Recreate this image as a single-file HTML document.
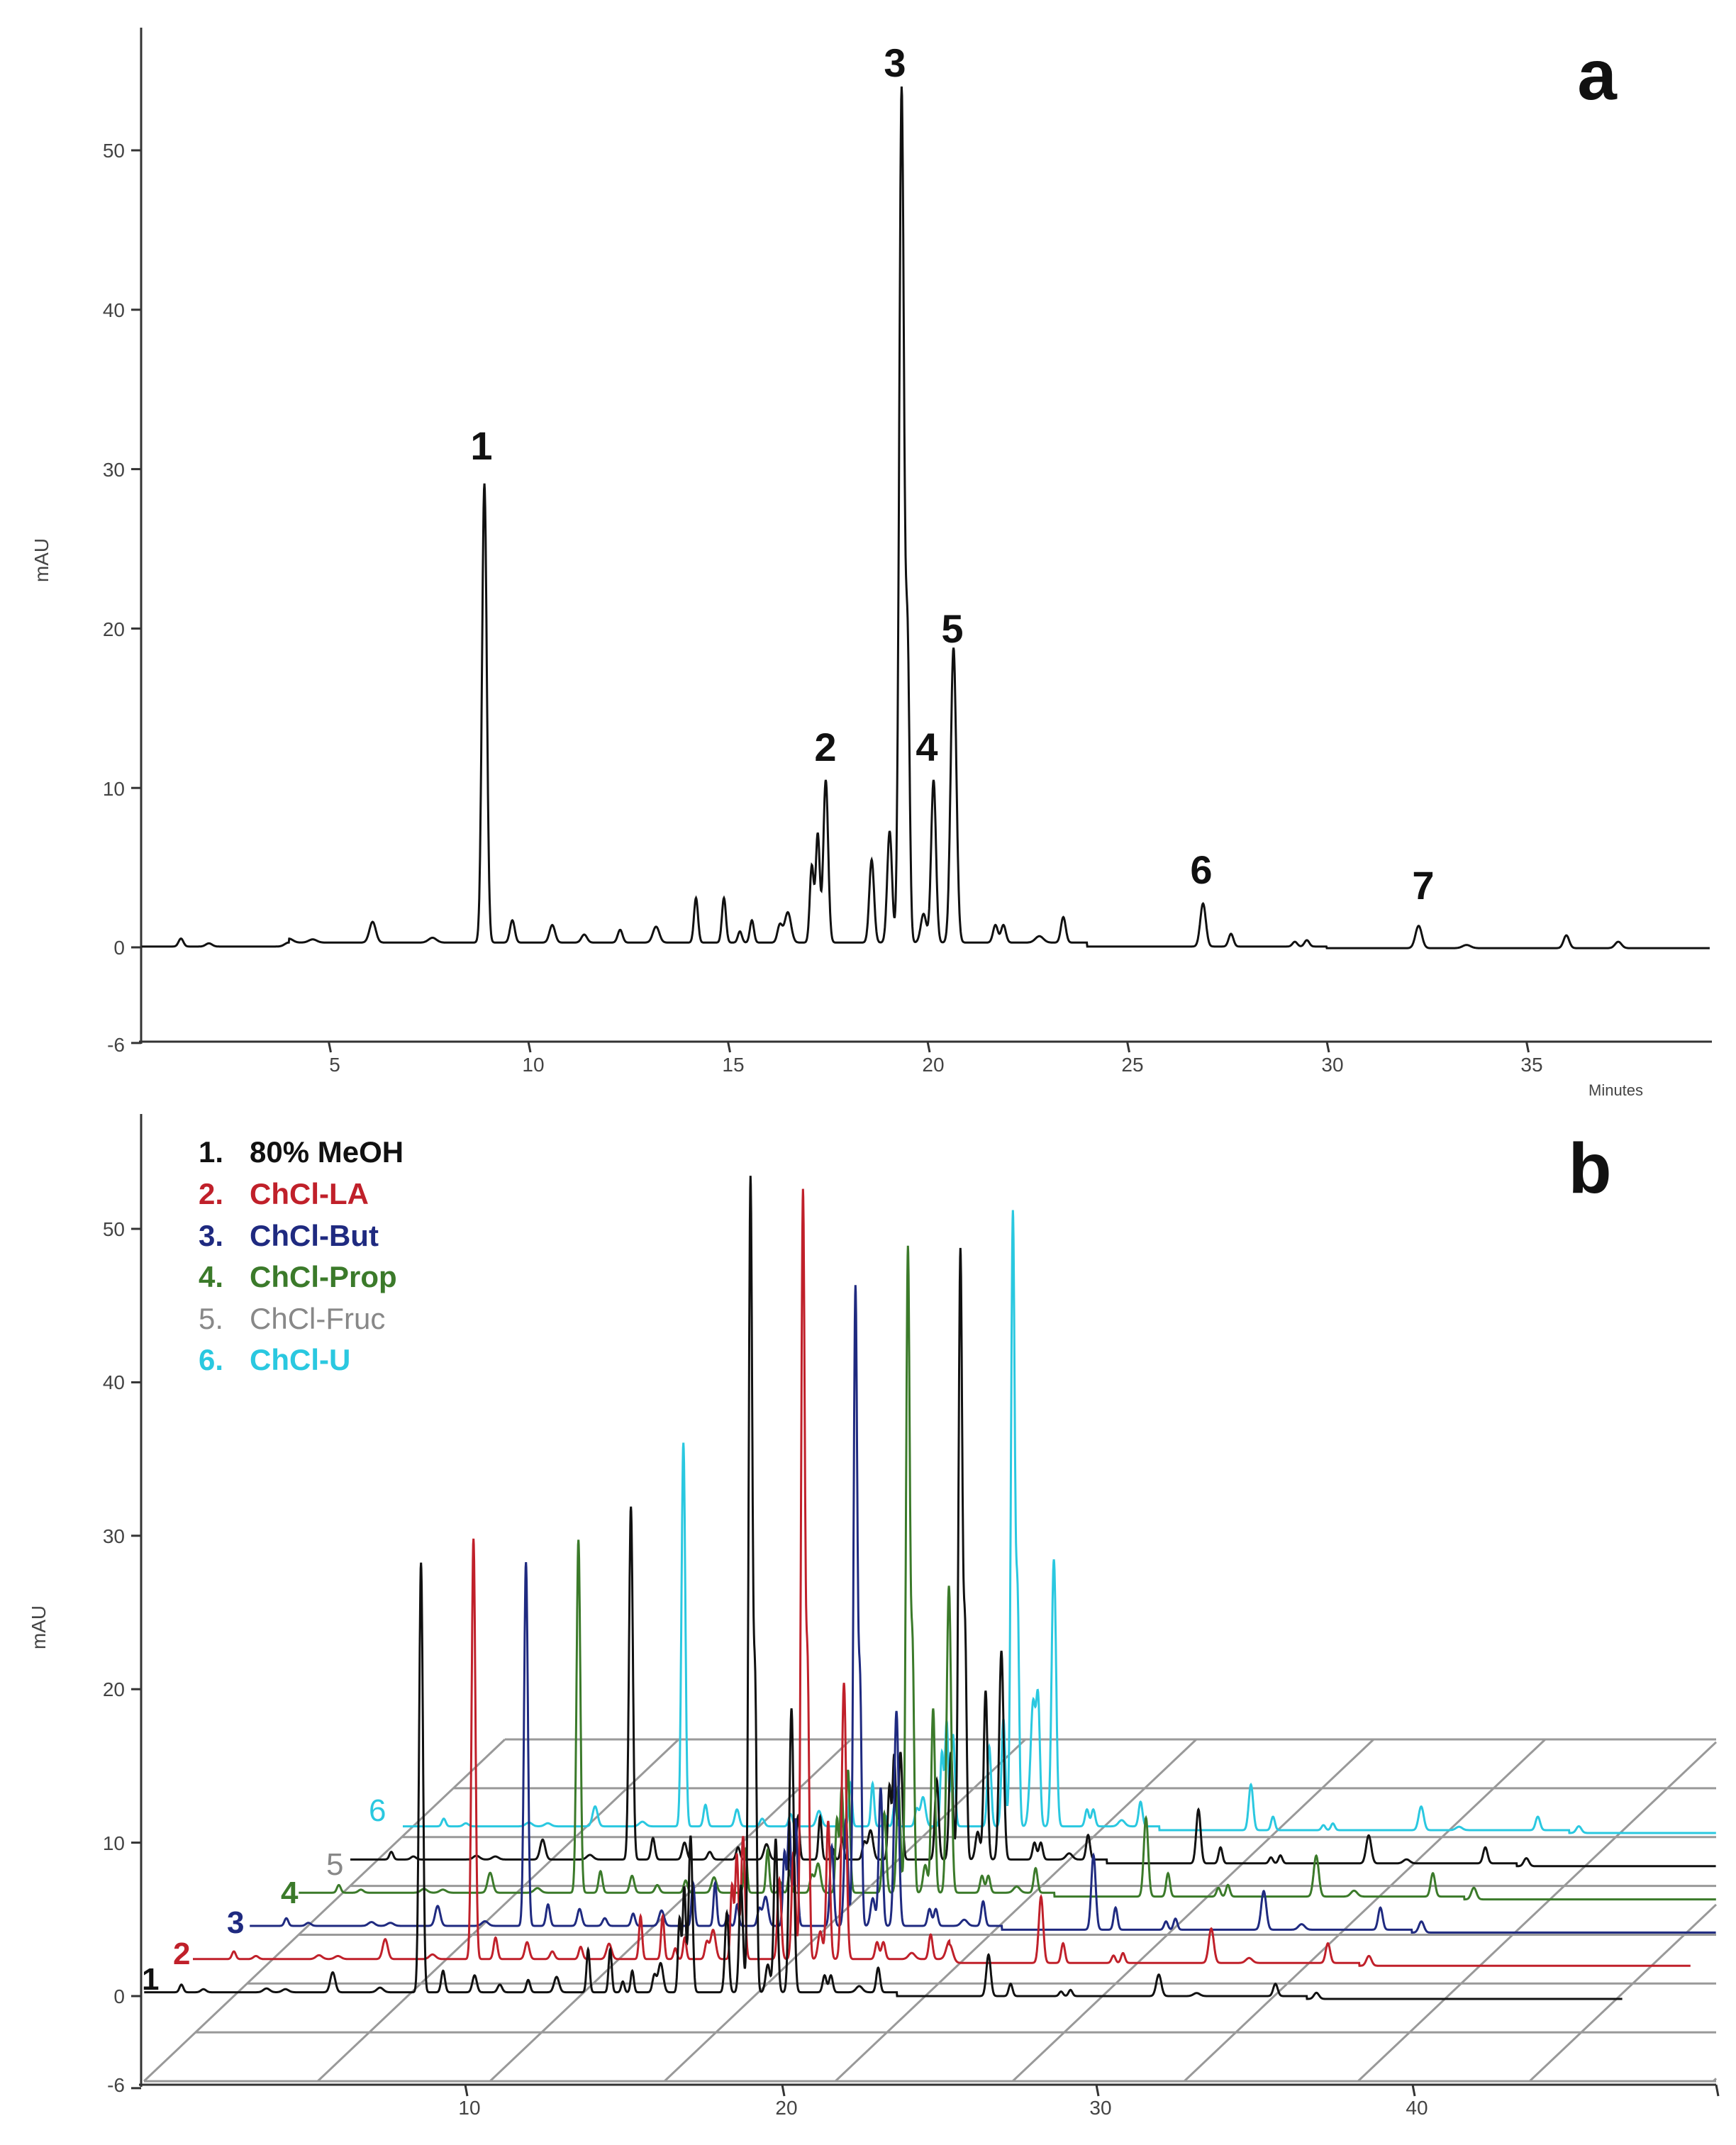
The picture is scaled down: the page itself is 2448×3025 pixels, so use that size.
<!DOCTYPE html>
<html><head><meta charset="utf-8">
<style>
html,body{margin:0;padding:0;background:#fff;}
svg{display:block;}
text{font-family:"Liberation Sans",Arial,sans-serif;}
</style></head>
<body>
<svg id="s" width="2448" height="3025" viewBox="0 0 2448 3025" xmlns="http://www.w3.org/2000/svg">
<rect width="2448" height="3025" fill="#fff"/>
<g stroke="#333" stroke-width="3" fill="none">
<line x1="199" y1="39" x2="199" y2="1472"/>
<line x1="196" y1="1469" x2="2414" y2="1469"/>
</g>
<g id="aticks" stroke="#333" stroke-width="3"></g>
<g font-size="28" fill="#444" text-anchor="end">
<text x="176" y="1483">-6</text>
<text x="176" y="1346">0</text>
<text x="176" y="1122">10</text>
<text x="176" y="897">20</text>
<text x="176" y="672">30</text>
<text x="176" y="447">40</text>
<text x="176" y="222">50</text>
</g>
<g font-size="28" fill="#444" text-anchor="middle">
<text x="472" y="1511">5</text>
<text x="752" y="1511">10</text>
<text x="1034" y="1511">15</text>
<text x="1316" y="1511">20</text>
<text x="1597" y="1511">25</text>
<text x="1879" y="1511">30</text>
<text x="2160" y="1511">35</text>
</g>
<text x="2240" y="1545" font-size="22" fill="#444">Minutes</text>
<text transform="translate(68,790) rotate(-90)" font-size="28" fill="#444" text-anchor="middle">mAU</text>
<path id="pa" fill="none" stroke="#111" stroke-width="3"/>
<g font-size="56" font-weight="bold" fill="#111" text-anchor="middle">
<text x="679" y="648">1</text>
<text x="1164" y="1073">2</text>
<text x="1262" y="108">3</text>
<text x="1307" y="1073">4</text>
<text x="1343" y="906">5</text>
<text x="1694" y="1246">6</text>
<text x="2007" y="1268">7</text>
</g>
<text x="2252" y="140" font-size="100" font-weight="bold" fill="#111" text-anchor="middle">a</text>

<g id="grid" stroke="#999" stroke-width="3" fill="none"></g>
<g stroke="#333" stroke-width="3" fill="none">
<line x1="199" y1="1571" x2="199" y2="2943"/>
<line x1="196" y1="2940" x2="2420" y2="2940"/>
</g>
<g id="bticks" stroke="#333" stroke-width="3"></g>
<g font-size="28" fill="#444" text-anchor="end">
<text x="176" y="2950">-6</text>
<text x="176" y="2825">0</text>
<text x="176" y="2609">10</text>
<text x="176" y="2392">20</text>
<text x="176" y="2176">30</text>
<text x="176" y="1959">40</text>
<text x="176" y="1743">50</text>
</g>
<g font-size="28" fill="#444" text-anchor="middle">
<text x="662" y="2982">10</text>
<text x="1109" y="2982">20</text>
<text x="1552" y="2982">30</text>
<text x="1998" y="2982">40</text>
</g>
<text transform="translate(64,2295) rotate(-90)" font-size="28" fill="#444" text-anchor="middle">mAU</text>
<g id="traces"></g>
<g font-size="44">
<text x="200" y="2806" fill="#111" font-weight="bold">1</text>
<text x="244" y="2770" fill="#c0202a" font-weight="bold">2</text>
<text x="320" y="2726" fill="#1f2a80" font-weight="bold">3</text>
<text x="396" y="2684" fill="#3b7a2a" font-weight="bold">4</text>
<text x="460" y="2644" fill="#888">5</text>
<text x="520" y="2568" fill="#2ac8e0">6</text>
</g>
<g font-size="42" font-weight="bold">
<text x="280" y="1639" fill="#111">1.</text><text x="352" y="1639" fill="#111">80% MeOH</text>
<text x="280" y="1698" fill="#c0202a">2.</text><text x="352" y="1698" fill="#c0202a">ChCl-LA</text>
<text x="280" y="1757" fill="#1f2a80">3.</text><text x="352" y="1757" fill="#1f2a80">ChCl-But</text>
<text x="280" y="1815" fill="#3b7a2a">4.</text><text x="352" y="1815" fill="#3b7a2a">ChCl-Prop</text>
<text x="280" y="1874" fill="#888" font-weight="normal">5.</text><text x="352" y="1874" fill="#888" font-weight="normal">ChCl-Fruc</text>
<text x="280" y="1932" fill="#2ac8e0">6.</text><text x="352" y="1932" fill="#2ac8e0">ChCl-U</text>
</g>
<text x="2242" y="1682" font-size="100" font-weight="bold" fill="#111" text-anchor="middle">b</text>
</svg>
<script>
(function(){
var NS="http://www.w3.org/2000/svg";
function el(p,n,a){var e=document.createElementNS(NS,n);for(var k in a)e.setAttribute(k,a[k]);p.appendChild(e);return e;}
var base=[[1.3,.5,.06],[2,.2,.08],[4,.25,.1],[4.6,.2,.1],[6.1,1.3,.08],[7.6,.3,.1],[8.9,28.8,.06],[9.6,1.4,.06],[10.6,1.1,.07],[11.4,.5,.07],[12.3,.8,.06],[13.2,1,.08],[14.2,2.8,.05],[14.9,2.8,.05],[15.3,.7,.05],[15.6,1.4,.05],[16.3,1.1,.06],[16.5,1.9,.08],[17.1,4.8,.05],[17.25,6.8,.05],[17.45,10.2,.06],[18.6,5.2,.06],[19.05,7,.06],[19.35,53.5,.06],[19.5,18,.05],[19.9,1.8,.07],[20.15,10.2,.06],[20.65,18.5,.07],[21.7,1.1,.06],[21.9,1.1,.06],[22.8,.4,.1],[23.4,1.6,.06],[26.9,2.7,.07],[27.6,.8,.06],[29.2,.3,.06],[29.5,.4,.06],[32.3,1.4,.08],[33.5,.2,.1],[36,.8,.07],[37.3,.4,.08]];
function val(pk,t,bl){var v=bl?bl(t):0;for(var i=0;i<pk.length;i++){var d=(t-pk[i][0])/pk[i][2];if(d>-6&&d<6)v+=pk[i][1]*Math.exp(-0.5*d*d);}return v;}
var d="",x0=182,sx=56.3,y0=1336,sy=22.48;
function bla(t){return t<4?0.05:(t<24?0.3:(t<30?0.05:-0.05));}
for(var t=0;t<=39.6;t+=0.01){var x=x0+sx*t;if(x<200)continue;var y=y0-sy*val(base,t,bla);d+=(d?"L":"M")+x.toFixed(1)+","+y.toFixed(1);}
document.getElementById("pa").setAttribute("d",d);
var ta=document.getElementById("aticks");
[5,10,15,20,25,30,35].forEach(function(m){var x=x0+sx*m;el(ta,"line",{x1:x,y1:1469,x2:x+3,y2:1484});});
[-6,0,10,20,30,40,50].forEach(function(v){var y=y0-sy*v;el(ta,"line",{x1:185,y1:y,x2:199,y2:y});});
var tb=document.getElementById("bticks");
[656,1103,1546,1992,2420].forEach(function(x){el(tb,"line",{x1:x,y1:2940,x2:x+3,y2:2956});});
[-6,0,10,20,30,40,50].forEach(function(v){var y=2815-21.64*v;el(tb,"line",{x1:185,y1:y,x2:199,y2:y});});
var g=document.getElementById("grid");
for(var i=0;i<8;i++){var y=2453+i*68.86;var xs=712-(y-2453)*509/482;el(g,"line",{x1:xs,y1:y,x2:2420,y2:y});}
[203,448,691,937,1178,1428,1670,1915,2157,2416].forEach(function(xb){var xt=xb+509;var yt=2453;if(xt>2420){yt=2935-(2420-xb)*482/509;xt=2420;}el(g,"line",{x1:xb,y1:2935,x2:xt,y2:yt});});
function mod(h1,h3,h5,h4,h2,late){var p=base.map(function(q){return q.slice();});
p.forEach(function(q){if(q[0]==8.9)q[1]=h1;if(q[0]==19.35)q[1]=h3;if(q[0]==20.65)q[1]=h5;if(q[0]==20.15)q[1]=h4;if(q[0]==17.45)q[1]=h2;if(q[0]==19.5)q[1]=h3*0.35;if(q[0]>24)q[1]*=late;});return p;}
var T=[
{c:"#111",p:mod(28,53,18.5,10,10.2,1),s:203,e:47},
{c:"#c0202a",p:mod(27.4,50,18,9,8,1.6).concat([[24,1.2,.1]]),s:272,e:47.5},
{c:"#1f2a80",p:mod(23.7,41.6,14,9,7,1.8),s:352,e:50},
{c:"#3b7a2a",p:mod(23,42,20,12,8,1.9),s:421,e:50},
{c:"#111",p:mod(23,39.7,13.6,11,7,1.3),s:490,e:50},
{c:"#2ac8e0",p:mod(25,40,17.4,8,6,1.1).concat([[20.0,7.3,.07]]),s:566,e:50}
];
var tr=document.getElementById("traces");
for(var k=5;k>=0;k--){var o=T[k];var dx=k*74,by=2815-k*46.8;var dd="";
for(var t=0;t<=o.e;t+=0.01){var x=198+44.46*t+dx;if(x<o.s)continue;if(x>2420)break;var y=by-21.64*val(o.p,t,function(tt){return tt<24?0.25:0;})+(t>37?4:0);dd+=(dd?"L":"M")+x.toFixed(1)+","+y.toFixed(1);}
el(tr,"path",{d:dd,fill:"none",stroke:o.c,"stroke-width":3});}
})();
</script>
</body></html>
